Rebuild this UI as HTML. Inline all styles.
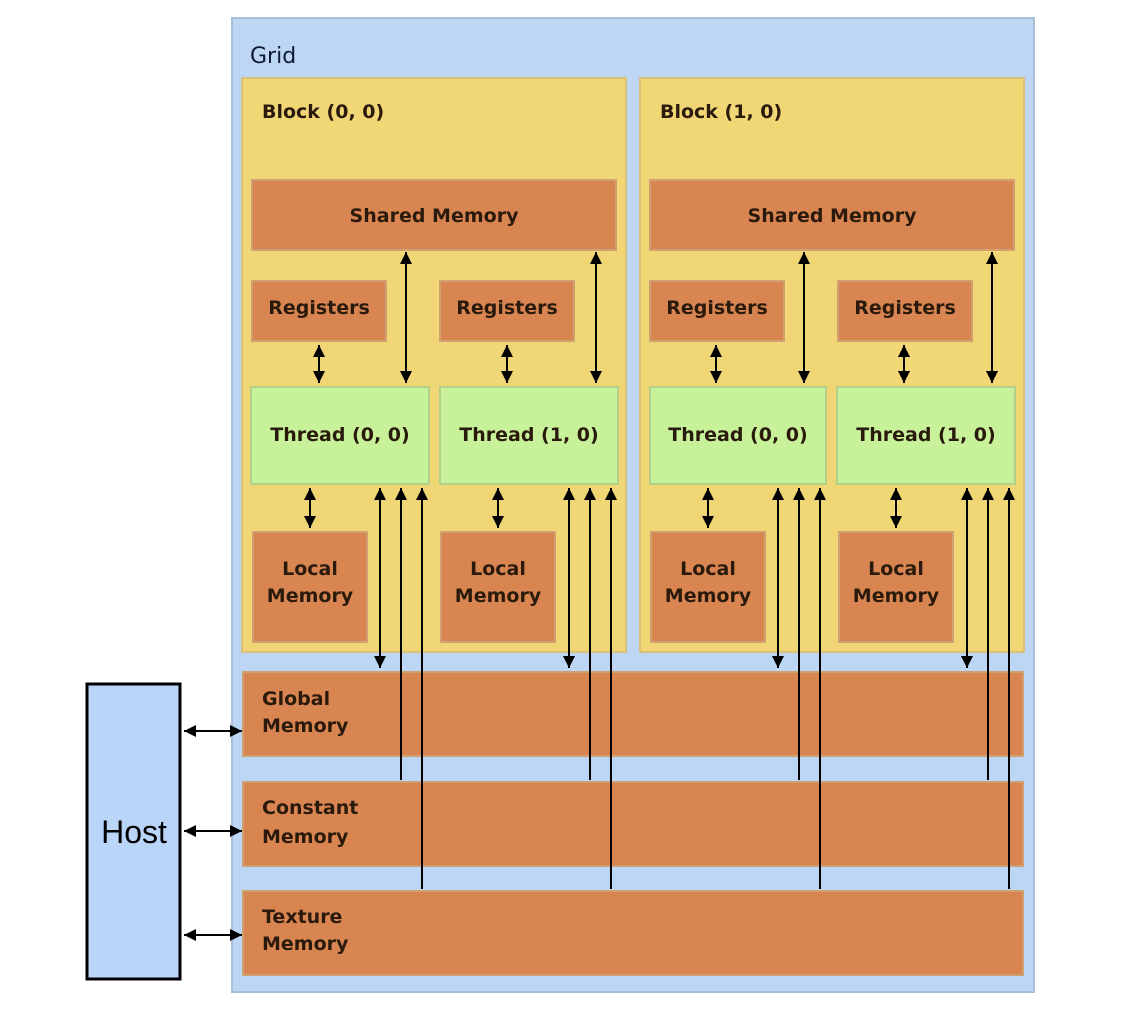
<!DOCTYPE html>
<html><head><meta charset="utf-8"><style>
html,body{margin:0;padding:0;background:#fff;}
svg{display:block;}
text{font-family:"DejaVu Sans","Liberation Sans",sans-serif;fill:#2a1a0c;font-size:19px;font-weight:bold;}
</style></head><body>
<svg width="1132" height="1030" viewBox="0 0 1132 1030" xmlns="http://www.w3.org/2000/svg">
<defs>
<marker id="a" viewBox="0 0 12 12" refX="12" refY="6" markerWidth="12" markerHeight="12" markerUnits="userSpaceOnUse" orient="auto-start-reverse">
<path d="M0,0 L12,6 L0,12 z" fill="#000"/>
</marker>
</defs>
<rect x="232" y="18" width="802" height="974" fill="#bcd6f4" stroke="#a9bfd9" stroke-width="2"/>
<text x="250" y="63" style="fill:#0d1a33;font-size:22px;font-weight:normal">Grid</text>
<rect x="242" y="78" width="384" height="574" fill="#f1d676" stroke="#d8c07a" stroke-width="2"/>
<rect x="640" y="78" width="384" height="574" fill="#f1d676" stroke="#d8c07a" stroke-width="2"/>
<text x="262" y="118">Block (0, 0)</text>
<text x="660" y="118">Block (1, 0)</text>
<g fill="#d98552" stroke="#cfa070" stroke-width="2">
<rect x="252" y="180" width="364" height="70"/>
<rect x="650" y="180" width="364" height="70"/>
<rect x="252" y="281" width="134" height="60"/>
<rect x="440" y="281" width="134" height="60"/>
<rect x="650" y="281" width="134" height="60"/>
<rect x="838" y="281" width="134" height="60"/>
<rect x="253" y="532" width="114" height="110"/>
<rect x="441" y="532" width="114" height="110"/>
<rect x="651" y="532" width="114" height="110"/>
<rect x="839" y="532" width="114" height="110"/>
<rect x="243" y="672" width="780" height="84"/>
<rect x="243" y="782" width="780" height="84"/>
<rect x="243" y="891" width="780" height="84"/>
</g>
<g fill="#c8f29a" stroke="#b3d08a" stroke-width="2">
<rect x="251" y="387" width="178" height="97"/>
<rect x="440" y="387" width="178" height="97"/>
<rect x="650" y="387" width="176" height="97"/>
<rect x="837" y="387" width="178" height="97"/>
</g>
<g text-anchor="middle">
<text x="434" y="222">Shared Memory</text>
<text x="832" y="222">Shared Memory</text>
<text x="319" y="314">Registers</text>
<text x="507" y="314">Registers</text>
<text x="717" y="314">Registers</text>
<text x="905" y="314">Registers</text>
<text x="340" y="441">Thread (0, 0)</text>
<text x="529" y="441">Thread (1, 0)</text>
<text x="738" y="441">Thread (0, 0)</text>
<text x="926" y="441">Thread (1, 0)</text>
<text x="310" y="575">Local</text><text x="310" y="602">Memory</text>
<text x="498" y="575">Local</text><text x="498" y="602">Memory</text>
<text x="708" y="575">Local</text><text x="708" y="602">Memory</text>
<text x="896" y="575">Local</text><text x="896" y="602">Memory</text>
</g>
<text x="262" y="705">Global</text><text x="262" y="732">Memory</text>
<text x="262" y="814">Constant</text><text x="262" y="843">Memory</text>
<text x="262" y="923">Texture</text><text x="262" y="950">Memory</text>
<g stroke="#000" stroke-width="2" fill="none">
<g marker-start="url(#a)" marker-end="url(#a)">
<line x1="319" y1="345" x2="319" y2="383"/><line x1="507" y1="345" x2="507" y2="383"/>
<line x1="716" y1="345" x2="716" y2="383"/><line x1="904" y1="345" x2="904" y2="383"/>
<line x1="406" y1="252" x2="406" y2="383"/><line x1="596" y1="252" x2="596" y2="383"/>
<line x1="804" y1="252" x2="804" y2="383"/><line x1="992" y1="252" x2="992" y2="383"/>
<line x1="310" y1="488" x2="310" y2="528"/><line x1="498" y1="488" x2="498" y2="528"/>
<line x1="708" y1="488" x2="708" y2="528"/><line x1="896" y1="488" x2="896" y2="528"/>
<line x1="380" y1="488" x2="380" y2="668"/><line x1="569" y1="488" x2="569" y2="668"/>
<line x1="778" y1="488" x2="778" y2="668"/><line x1="967" y1="488" x2="967" y2="668"/>
<line x1="184" y1="731" x2="242" y2="731"/>
<line x1="184" y1="831" x2="242" y2="831"/>
<line x1="184" y1="935" x2="242" y2="935"/>
</g>
<g marker-end="url(#a)">
<line x1="401" y1="780" x2="401" y2="488"/><line x1="590" y1="780" x2="590" y2="488"/>
<line x1="799" y1="780" x2="799" y2="488"/><line x1="988" y1="780" x2="988" y2="488"/>
<line x1="422" y1="889" x2="422" y2="488"/><line x1="611" y1="889" x2="611" y2="488"/>
<line x1="820" y1="889" x2="820" y2="488"/><line x1="1009" y1="889" x2="1009" y2="488"/>
</g>
</g>
<rect x="87" y="684" width="93" height="295" fill="#b9d5f7" stroke="#000" stroke-width="3"/>
<text x="134" y="843" text-anchor="middle" style="font-family:'Liberation Sans',sans-serif;font-size:32px;font-weight:normal;fill:#000">Host</text>
</svg>
</body></html>
